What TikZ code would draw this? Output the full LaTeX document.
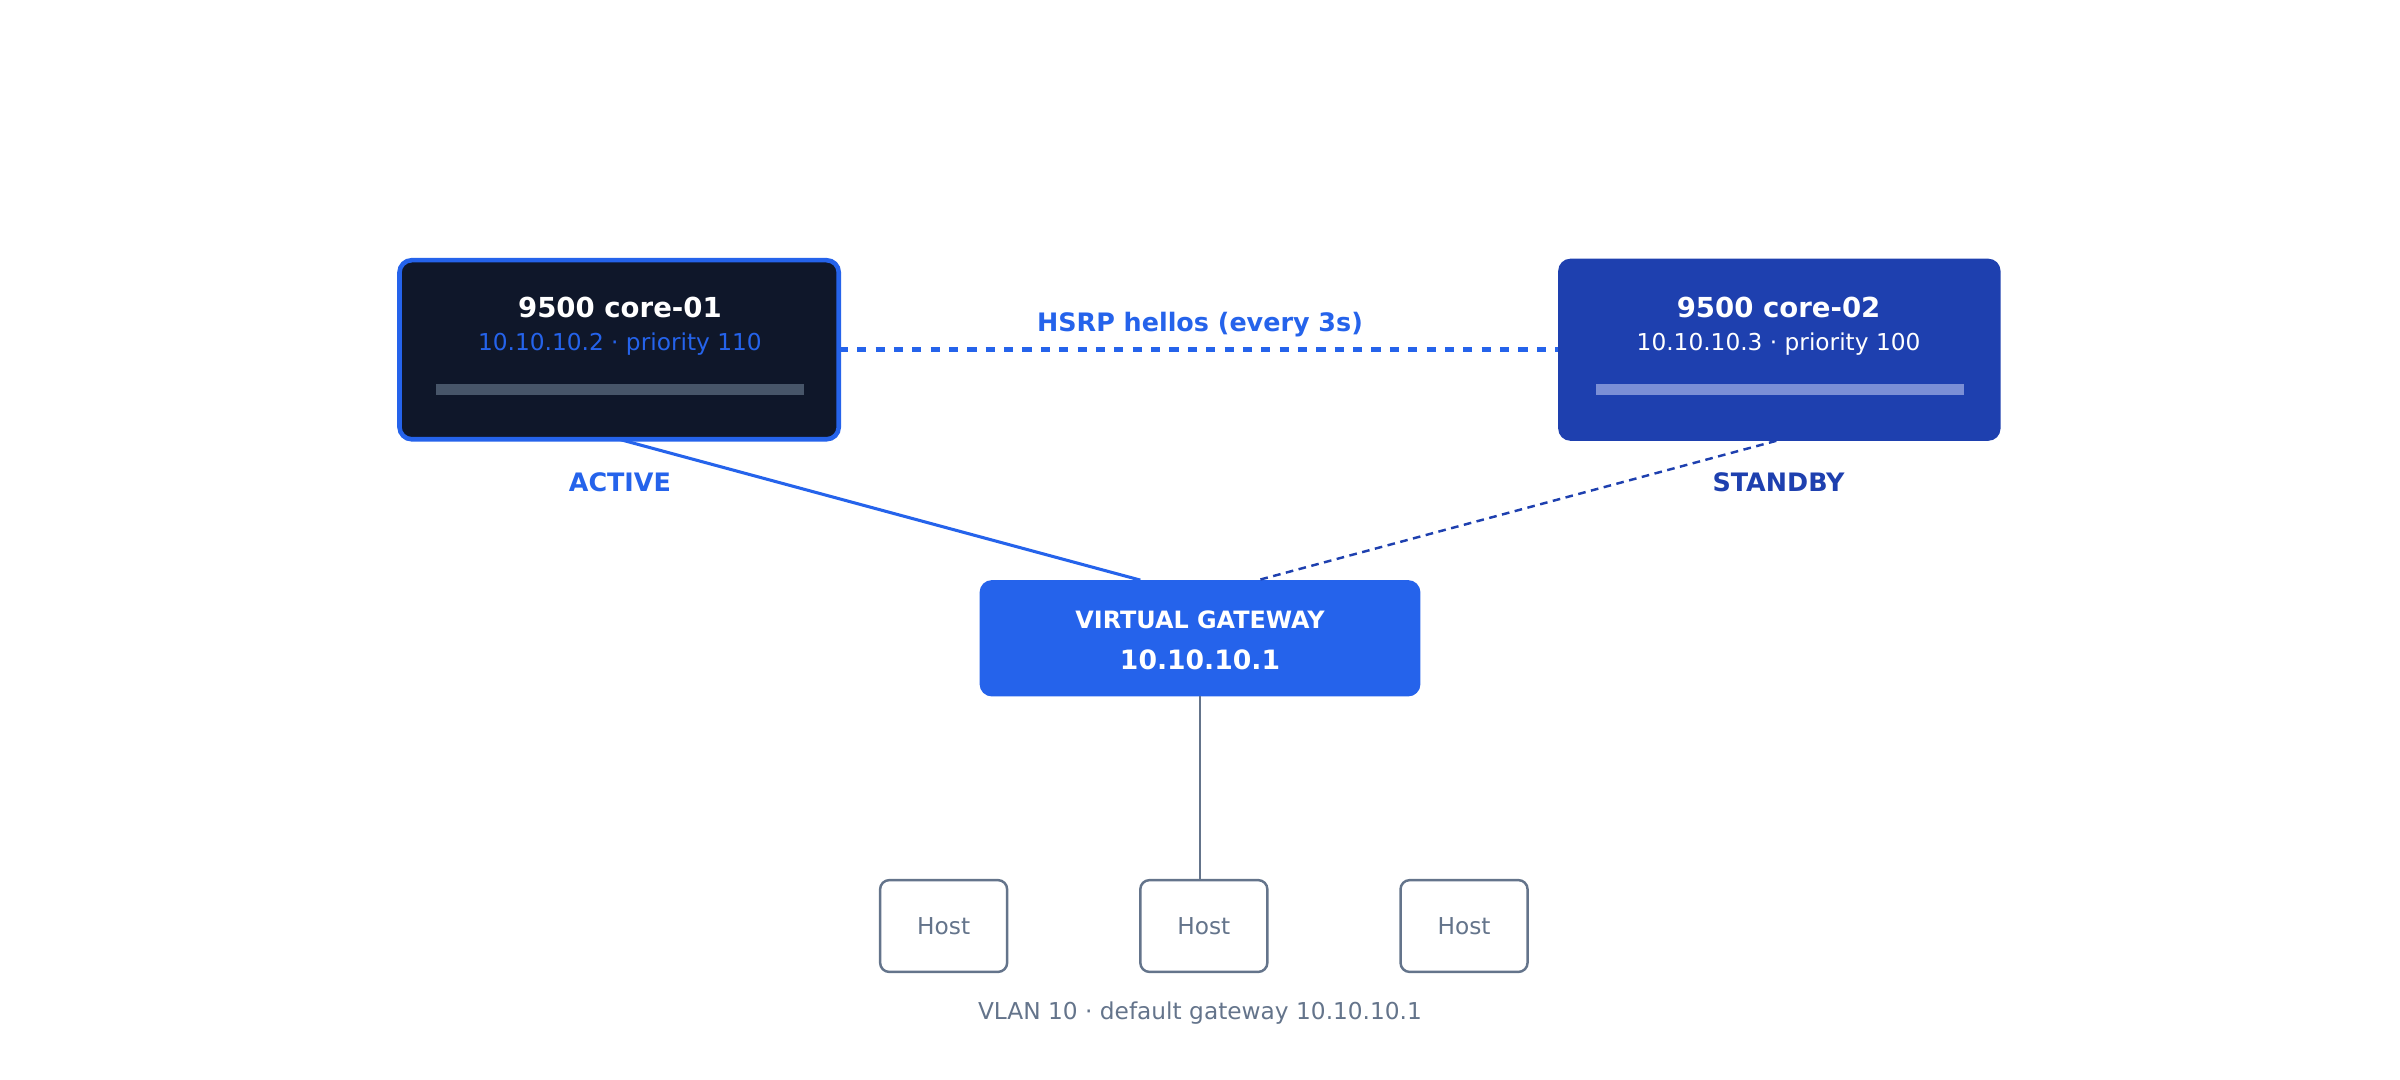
\documentclass[tikz,border=0pt]{standalone}
\usepackage{fontspec}
\setmainfont{DejaVu Sans}
\usetikzlibrary{calc}
\definecolor{navy}{HTML}{0F172A}
\definecolor{blu}{HTML}{2563EB}
\definecolor{dblu}{HTML}{1E40AF}
\definecolor{slate}{HTML}{64748B}
\definecolor{bar1}{HTML}{475569}
\definecolor{bar2}{HTML}{7B8FD6}
\begin{document}
\begin{tikzpicture}[x=0.5pt,y=-0.5pt,
  box/.style={rounded corners=4pt,inner sep=0pt,outer sep=0pt},
  ttl/.style={font=\fontsize{9}{10}\selectfont\bfseries,text=white},
  sub/.style={font=\fontsize{7.6}{9}\selectfont},
  lab/.style={font=\fontsize{8.3}{10}\selectfont\bfseries},
  host/.style={draw=slate,line width=0.8pt,fill=white,rounded corners=3pt,minimum width=41.5pt,minimum height=30pt,inner sep=0pt,text=slate,font=\fontsize{7.6}{9}\selectfont}]
\useasboundingbox (0,0) rectangle (1568,705.6);
% core-01
\node[box,draw=blu,line width=1.5pt,fill=navy,minimum width=143.5pt,minimum height=58.5pt] (c1) at (404.5,228.5) {};
\node[ttl] (c1t) at (405,201) {9500 core-01};
\node[sub,text=blu] (c1s) at (405,225) {10.10.10.2 · priority 110};
\fill[bar1] (285,251) rectangle (525,258);
% core-02
\node[box,fill=dblu,minimum width=144.5pt,minimum height=59.5pt] (c2) at (1162.5,228.5) {};
\node[ttl] (c2t) at (1162,201) {9500 core-02};
\node[sub,text=white] (c2s) at (1162,225) {10.10.10.3 · priority 100};
\fill[bar2] (1043,251) rectangle (1283,258);
% hsrp
\draw[blu,line width=1.5pt,dash pattern=on 3pt off 3pt] (c1.east) -- (c2.west);
\node[lab,text=blu] (hs) at (784,212) {HSRP hellos (every 3s)};
\node[lab,text=blu] (act) at (405,315) {ACTIVE};
\node[lab,text=dblu] (stb) at (1162,315) {STANDBY};
% gateway
\node[box,fill=blu,minimum width=144pt,minimum height=38pt] (gw) at (784,417) {};
\node[font=\fontsize{7.8}{9}\selectfont\bfseries,text=white] (gwt) at (784,405) {VIRTUAL GATEWAY};
\node[font=\fontsize{8.7}{10}\selectfont\bfseries,text=white] (gwi) at (784,431) {10.10.10.1};
\coordinate (ga) at ($(gw.north west)+(105,0)$);
\coordinate (gb) at ($(gw.north west)+(182,0)$);
\draw[blu,line width=1pt] (c1.south) -- (ga);
\draw[dblu,line width=0.8pt,dash pattern=on 2.5pt off 1.8pt] ($(c2.south)+(-2,0)$) -- (gb);
% hosts
\node[host] (h1) at (616.5,605) {Host};
\node[host] (h2) at (786.5,605) {Host};
\node[host] (h3) at (956.5,605) {Host};
\draw[slate,line width=0.8pt] (gw.south) -- (gw.south |- h2.north);
\node[sub,text=slate] (ft) at (784,662) {VLAN 10 · default gateway 10.10.10.1};
\end{tikzpicture}
\end{document}
